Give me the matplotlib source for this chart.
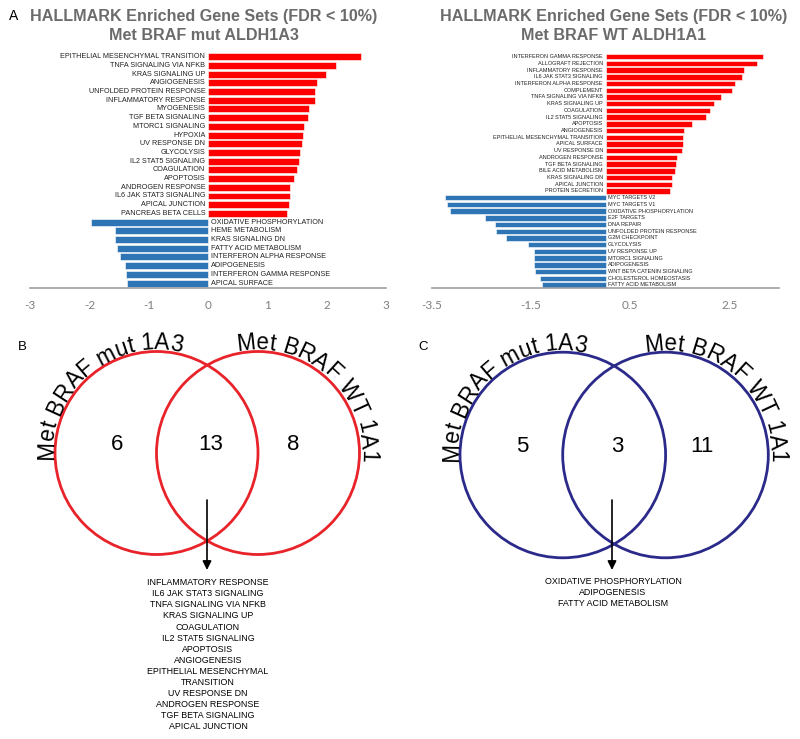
import math
import textwrap
import matplotlib
matplotlib.use("Agg")
import matplotlib.pyplot as plt
from matplotlib.patches import Circle
from matplotlib.font_manager import FontProperties
from matplotlib.textpath import TextToPath

plt.rcParams['font.family'] = ['Liberation Sans', 'DejaVu Sans']

# ---------------- data ----------------
mut_up_sets = ["EPITHELIAL MESENCHYMAL TRANSITION", "TNFA SIGNALING VIA NFKB", "KRAS SIGNALING UP",
               "ANGIOGENESIS", "UNFOLDED PROTEIN RESPONSE", "INFLAMMATORY RESPONSE", "MYOGENESIS",
               "TGF BETA SIGNALING", "MTORC1 SIGNALING", "HYPOXIA", "UV RESPONSE DN", "GLYCOLYSIS",
               "IL2 STAT5 SIGNALING", "COAGULATION", "APOPTOSIS", "ANDROGEN RESPONSE",
               "IL6 JAK STAT3 SIGNALING", "APICAL JUNCTION", "PANCREAS BETA CELLS"]
mut_up_nes = [2.58, 2.15, 1.99, 1.84, 1.81, 1.80, 1.70, 1.69, 1.61, 1.60, 1.58, 1.55,
              1.53, 1.50, 1.45, 1.39, 1.38, 1.36, 1.33]
mut_dn_sets = ["OXIDATIVE PHOSPHORYLATION", "HEME METABOLISM", "KRAS SIGNALING DN",
               "FATTY ACID METABOLISM", "INTERFERON ALPHA RESPONSE", "ADIPOGENESIS",
               "INTERFERON GAMMA RESPONSE", "APICAL SURFACE"]
mut_dn_nes = [-1.98, -1.57, -1.56, -1.54, -1.48, -1.40, -1.39, -1.37]

wt_up_sets = ["INTERFERON GAMMA RESPONSE", "ALLOGRAFT REJECTION", "INFLAMMATORY RESPONSE",
              "IL6 JAK STAT3 SIGNALING", "INTERFERON ALPHA RESPONSE", "COMPLEMENT",
              "TNFA SIGNALING VIA NFKB", "KRAS SIGNALING UP", "COAGULATION", "IL2 STAT5 SIGNALING",
              "APOPTOSIS", "ANGIOGENESIS", "EPITHELIAL MESENCHYMAL TRANSITION", "APICAL SURFACE",
              "UV RESPONSE DN", "ANDROGEN RESPONSE", "TGF BETA SIGNALING", "BILE ACID METABOLISM",
              "KRAS SIGNALING DN", "APICAL JUNCTION", "PROTEIN SECRETION"]
wt_up_nes = [3.18, 3.05, 2.79, 2.75, 2.61, 2.55, 2.32, 2.19, 2.10, 2.02, 1.75, 1.59, 1.57, 1.57,
             1.55, 1.45, 1.43, 1.40, 1.35, 1.34, 1.30]
wt_dn_sets = ["MYC TARGETS V2", "MYC TARGETS V1", "OXIDATIVE PHOSPHORYLATION", "E2F TARGETS",
              "DNA REPAIR", "UNFOLDED PROTEIN RESPONSE", "G2M CHECKPOINT", "GLYCOLYSIS",
              "UV RESPONSE UP", "MTORC1 SIGNALING", "ADIPOGENESIS", "WNT BETA CATENIN SIGNALING",
              "CHOLESTEROL HOMEOSTASIS", "FATTY ACID METABOLISM"]
wt_dn_nes = [-3.23, -3.19, -3.13, -2.44, -2.22, -2.20, -2.01, -1.56, -1.45, -1.45, -1.44, -1.43,
             -1.33, -1.29]

mut_ticks = [-3, -2, -1, 0, 1, 2, 3]
wt_ticks = [-3.5, -1.5, 0.5, 2.5]

venn_labels = ("Met BRAF mut 1A3", "Met BRAF WT 1A1")
venn_up_counts = (6, 13, 8)
venn_dn_counts = (5, 3, 11)
shared_up = ["INFLAMMATORY RESPONSE", "IL6 JAK STAT3 SIGNALING", "TNFA SIGNALING VIA NFKB",
             "KRAS SIGNALING UP", "COAGULATION", "IL2 STAT5 SIGNALING", "APOPTOSIS", "ANGIOGENESIS",
             "EPITHELIAL MESENCHYMAL TRANSITION", "UV RESPONSE DN", "ANDROGEN RESPONSE",
             "TGF BETA SIGNALING", "APICAL JUNCTION"]
shared_dn = ["OXIDATIVE PHOSPHORYLATION", "ADIPOGENESIS", "FATTY ACID METABOLISM"]

# ---------------- figure ----------------
W, H = 800, 739
fig = plt.figure(figsize=(W / 100, H / 100), dpi=100)

RED = "#ff0000"
BLUE = "#2e75b6"
GRAY_T = "#6b6b6b"


def rect(x0, y0, x1, y1):
    return [x0 / W, 1 - y1 / H, (x1 - x0) / W, (y1 - y0) / H]


def bar_panel(pos, up_sets, up_vals, dn_sets, dn_vals, xlim, ticks, fs, ylim_pad):
    ax = fig.add_axes(pos)
    names = up_sets + dn_sets
    vals = up_vals + dn_vals
    n = len(vals)
    ys = list(range(n))
    cols = [RED if v > 0 else BLUE for v in vals]
    ax.barh(ys, vals, height=0.8, color=cols, edgecolor="white", linewidth=0.4)
    off = 0.045 * (xlim[1] - xlim[0]) / 6
    for y, v, name in zip(ys, vals, names):
        if v > 0:
            ax.text(-off, y, name, ha="right", va="center", fontsize=fs, color="#222222")
        else:
            ax.text(off, y, name, ha="left", va="center", fontsize=fs, color="#222222")
    ax.set_xlim(*xlim)
    ax.set_ylim(n - 1 + ylim_pad[1], -ylim_pad[0])
    ax.set_xticks(ticks)
    ax.set_xticklabels([("%g" % t) for t in ticks], fontfamily="Lato", fontsize=8.5, color="#7f7f7f")
    ax.set_yticks([])
    for s in ("top", "left", "right"):
        ax.spines[s].set_visible(False)
    ax.spines["bottom"].set_color("#a0a0a0")
    ax.spines["bottom"].set_linewidth(1.2)
    ax.tick_params(axis="x", length=0, pad=9)
    ax.patch.set_alpha(0)
    return ax


bar_panel(rect(30, 52, 386, 288), mut_up_sets, mut_up_nes, mut_dn_sets, mut_dn_nes,
          (-3, 3), mut_ticks, 5.2, (0.54, 0.57))
bar_panel(rect(432, 52, 779, 288), wt_up_sets, wt_up_nes, wt_dn_sets, wt_dn_nes,
          (-3.5, 3.5), wt_ticks, 4.0, (0.7, 0.45))

# titles
for cx, sub in ((203.5, "Met BRAF mut ALDH1A3"), (613.5, "Met BRAF WT ALDH1A1")):
    fig.text(cx / W, 1 - 16.5 / H, "HALLMARK Enriched Gene Sets (FDR < 10%)", ha="center",
             va="center", fontsize=11.6, fontweight="bold", color=GRAY_T)
    fig.text(cx / W, 1 - 35 / H, sub, ha="center", va="center", fontsize=11.6,
             fontweight="bold", color=GRAY_T)

fig.text(14 / W, 1 - 16.5 / H, "A", ha="center", va="center", fontsize=10, color="black")
fig.text(22 / W, 1 - 347 / H, "B", ha="center", va="center", fontsize=9.5, color="black")
fig.text(423 / W, 1 - 347 / H, "C", ha="center", va="center", fontsize=9.5, color="black")

# ---------------- Venn overlay ----------------
ov = fig.add_axes([0, 0, 1, 1])
ov.set_xlim(0, W)
ov.set_ylim(H, 0)
ov.axis("off")
ov.patch.set_alpha(0)

t2p = TextToPath()


def adv(ch, prop):
    w1 = t2p.get_text_width_height_descent("|" + ch + "|", prop, ismath=False)[0]
    w0 = t2p.get_text_width_height_descent("||", prop, ismath=False)[0]
    return (w1 - w0) * 100 / 72.0


def curved_text(cx, cy, R, start_deg, s, size):
    prop = FontProperties(family="Liberation Sans", size=size)
    pos = 0.0
    for ch in s:
        a = adv(ch, prop)
        c = pos + a / 2
        th = math.radians(start_deg) - c / R
        if ch != " ":
            x = cx + R * math.cos(th)
            y = cy - R * math.sin(th)
            ov.text(x, y, ch, fontproperties=prop, ha="center", va="baseline",
                    rotation=math.degrees(th) - 90, rotation_mode="anchor", color="black")
        pos += a


def venn(c1, c2, cy, r, color, counts, start1, start2, arrow_x, items, list_y0):
    for cx in (c1, c2):
        ov.add_patch(Circle((cx, cy), r, fill=False, edgecolor=color, linewidth=2.0))
    mid = (c1 + c2) / 2
    xs = (c1 - 0.39 * r, mid + 3, c2 + 0.35 * r)
    for x, n in zip(xs, counts):
        ov.text(x, cy - 8, str(n), ha="center", va="center", fontsize=16, color="black")
    curved_text(c1, cy, r + 2, start1, venn_labels[0], 16.3)
    curved_text(c2, cy, r + 2, start2, venn_labels[1], 16.3)
    ov.annotate("", xy=(arrow_x, 570), xytext=(arrow_x, 500),
                arrowprops=dict(arrowstyle="-|>", color="black", lw=1.2, mutation_scale=13,
                                shrinkA=0, shrinkB=0))
    lines = []
    for it in items:
        lines.extend(textwrap.wrap(it, 26))
    for i, ln in enumerate(lines):
        ov.text(arrow_x + 1, list_y0 + i * 11.08, ln, ha="center", va="center", fontsize=6.4,
                color="black")


venn(156.5, 258, 453, 101.5, "#e8232a", venn_up_counts, 184, 101.5, 207, shared_up, 582.7)
venn(562.8, 665.5, 455, 102.8, "#2b2a8a", venn_dn_counts, 184, 101, 612, shared_dn, 581.7)

fig.savefig("out.png", dpi=100)
